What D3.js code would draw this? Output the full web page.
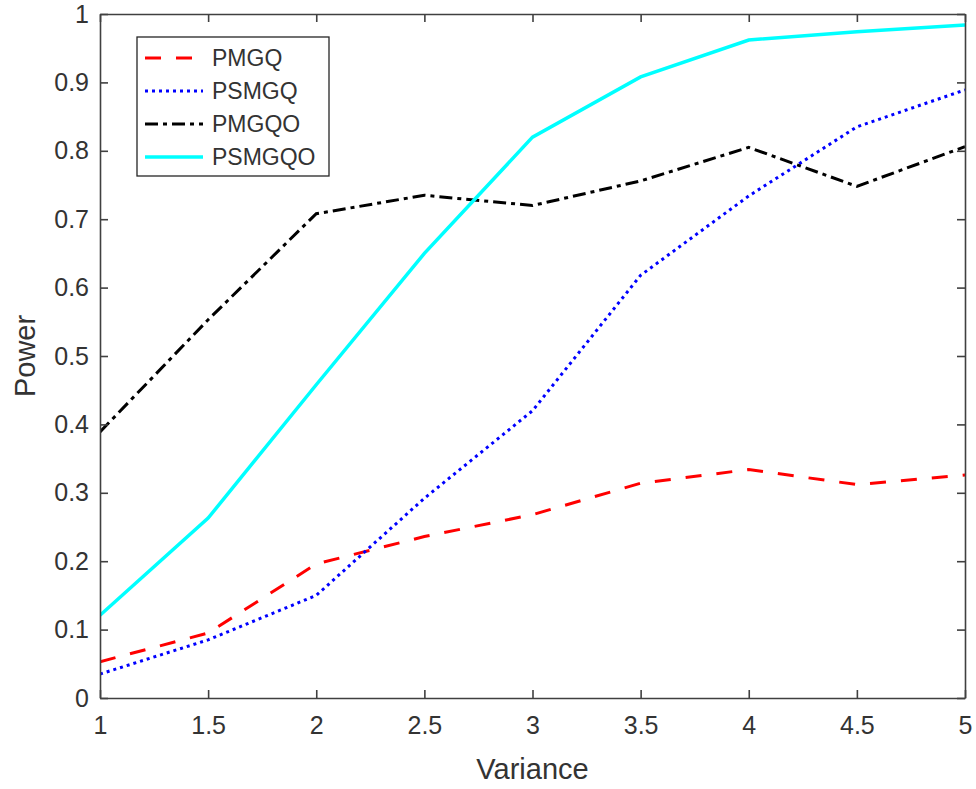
<!DOCTYPE html>
<html>
<head>
<meta charset="utf-8">
<script src="https://cdn.jsdelivr.net/npm/d3@7"></script>
<style>
  body { margin: 0; background: #fff; }
  text { font-family: "Liberation Sans", Arial, sans-serif; fill: #333; }
</style>
</head>
<body>
<script>
// data
var variance = [1, 1.5, 2, 2.5, 3, 3.5, 4, 4.5, 5];
var pmgq   = [0.053, 0.095, 0.196, 0.236, 0.268, 0.314, 0.334, 0.312, 0.326];
var psmgq  = [0.035, 0.085, 0.150, 0.292, 0.420, 0.618, 0.734, 0.835, 0.889];
var pmgqo  = [0.389, 0.553, 0.708, 0.735, 0.720, 0.756, 0.805, 0.748, 0.806];
var psmgqo = [0.121, 0.263, 0.458, 0.650, 0.820, 0.908, 0.962, 0.974, 0.984];
var seriesNames = ["PMGQ", "PSMGQ", "PMGQO", "PSMGQO"];
var xTicks = [1, 1.5, 2, 2.5, 3, 3.5, 4, 4.5, 5];
var yTicks = [0, 0.1, 0.2, 0.3, 0.4, 0.5, 0.6, 0.7, 0.8, 0.9, 1];

var w = 976, h = 789;
// plot box edges (not called top/left, those clash with window globals)
var plotL = 100, plotR = 965, plotT = 14, plotB = 698;

var svg = d3.select("body").append("svg")
    .attr("width", w)
    .attr("height", h);

var x = d3.scaleLinear().domain([1, 5]).range([plotL, plotR]);
var y = d3.scaleLinear().domain([0, 1]).range([plotB, plotT]);

// line styles, like matlab's '--', ':', '-.', '-'
var styles = [
  {color: "#ff0000", dash: "16,15", width: 3},
  {color: "#0000ff", dash: "3,4", width: 3},
  {color: "#000000", dash: "13,5,4,5", width: 3},
  {color: "#00ffff", dash: null, width: 3.5}
];
var allSeries = [pmgq, psmgq, pmgqo, psmgqo];

var line = d3.line()
    .x(function(d, i){ return x(variance[i]); })
    .y(function(d){ return y(d); });

svg.append("clipPath").attr("id", "plotclip")
  .append("rect")
    .attr("x", plotL).attr("y", plotT)
    .attr("width", plotR - plotL).attr("height", plotB - plotT);

svg.append("g").attr("clip-path", "url(#plotclip)")
  .selectAll(".series")
  .data(allSeries)
  .enter()
  .append("path")
    .attr("class", "series")
    .attr("d", line)
    .attr("fill", "none")
    .attr("stroke", function(d, i){ return styles[i].color; })
    .attr("stroke-width", function(d, i){ return styles[i].width; })
    .attr("stroke-dasharray", function(d, i){ return styles[i].dash; });

// axes with inward ticks on all four sides (box on)
var tickLen = 8;
svg.append("g")
    .attr("transform", "translate(0," + plotB + ")")
    .call(d3.axisBottom(x).tickValues(xTicks).tickSizeInner(-tickLen).tickSizeOuter(0)
      .tickPadding(18).tickFormat(d3.format("")));
svg.append("g")
    .attr("transform", "translate(0," + plotT + ")")
    .call(d3.axisTop(x).tickValues(xTicks).tickSizeInner(-tickLen).tickSizeOuter(0)
      .tickFormat(""));
svg.append("g")
    .attr("transform", "translate(" + plotL + ",0)")
    .call(d3.axisLeft(y).tickValues(yTicks).tickSizeInner(-tickLen).tickSizeOuter(0)
      .tickPadding(11).tickFormat(d3.format("")));
svg.append("g")
    .attr("transform", "translate(" + plotR + ",0)")
    .call(d3.axisRight(y).tickValues(yTicks).tickSizeInner(-tickLen).tickSizeOuter(0)
      .tickFormat(""));

svg.selectAll(".domain, .tick line")
    .attr("stroke", "#404040")
    .attr("stroke-width", 1.6);
svg.selectAll(".tick text")
    .style("font-size", "25px")
    .attr("fill", "#333");

// axis labels
svg.append("text")
    .attr("x", (plotL + plotR) / 2)
    .attr("y", 779)
    .attr("text-anchor", "middle")
    .style("font-size", "29px")
    .text("Variance");

svg.append("text")
    .attr("transform", "translate(35," + ((plotT + plotB) / 2) + ") rotate(-90)")
    .attr("text-anchor", "middle")
    .style("font-size", "29px")
    .text("Power");

// legend
var legend = svg.append("g");
legend.append("rect")
    .attr("x", 137).attr("y", 37)
    .attr("width", 192).attr("height", 139)
    .attr("fill", "#fff")
    .attr("stroke", "#262626")
    .attr("stroke-width", 1.3);

var items = legend.selectAll(".item")
    .data(seriesNames)
    .enter()
    .append("g")
    .attr("class", "item")
    .attr("transform", function(d, i){ return "translate(0," + (58 + i * 33) + ")"; });

items.append("line")
    .attr("x1", 145).attr("x2", 203)
    .attr("y1", 0).attr("y2", 0)
    .attr("stroke", function(d, i){ return styles[i].color; })
    .attr("stroke-width", function(d, i){ return styles[i].width; })
    .attr("stroke-dasharray", function(d, i){ return styles[i].dash; });

items.append("text")
    .attr("x", 212)
    .attr("y", 8)
    .style("font-size", "23px")
    .attr("fill", "#111")
    .text(function(d){ return d; });
</script>
</body>
</html>
